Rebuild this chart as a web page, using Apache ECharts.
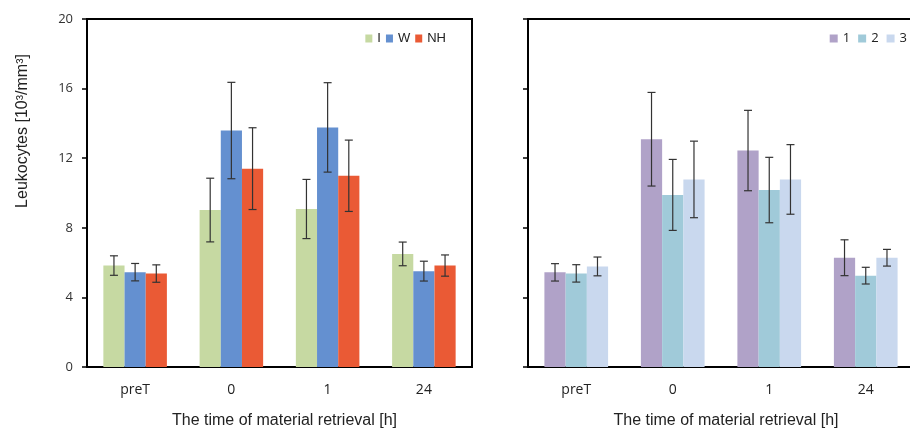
<!DOCTYPE html>
<html>
<head>
<meta charset="utf-8">
<script src="https://cdn.jsdelivr.net/npm/echarts@6/dist/echarts.min.js"></script>
<style>html,body{margin:0;padding:0;background:#fff;}#c{width:910px;height:432px;}</style>
</head>
<body>
<div id="c"></div>
<script>
const categories = ['preT', '0', '1', '24'];
const yTicks = [0, 4, 8, 12, 16, 20];

// Left panel (means and SD)
const leftNames = ['I', 'W', 'NH'];
const meanI  = [5.83, 9.02, 9.08, 6.50];
const errI   = [0.56, 1.83, 1.70, 0.68];
const meanW  = [5.45, 13.59, 13.77, 5.51];
const errW   = [0.50, 2.77, 2.57, 0.57];
const meanNH = [5.37, 11.40, 10.99, 5.83];
const errNH  = [0.50, 2.35, 2.05, 0.61];

// Right panel
const rightNames = ['1', '2', '3'];
const mean1 = [5.44, 13.09, 12.44, 6.28];
const err1  = [0.50, 2.69, 2.31, 1.03];
const mean2 = [5.38, 9.89, 10.17, 5.25];
const err2  = [0.50, 2.04, 1.88, 0.48];
const mean3 = [5.78, 10.78, 10.78, 6.28];
const err3  = [0.54, 2.20, 2.00, 0.48];

const leftColors = ['#c6d9a2', '#6490d0', '#ea5a35'];
const rightColors = ['#b0a2c8', '#a0cad9', '#c9d8ee'];
const BAR_FRAC = 0.22;

const chart = echarts.init(document.getElementById('c'));

function errData(mean, err) {
  return mean.map((m, i) => [i, m - err[i], m + err[i]]);
}

function errSeries(mean, err, idx, axisIdx) {
  return {
    type: 'custom',
    xAxisIndex: axisIdx,
    yAxisIndex: axisIdx,
    data: errData(mean, err),
    encode: { x: 0, y: [1, 2] },
    z: 5,
    silent: true,
    renderItem: function (params, api) {
      const c = api.value(0);
      const lo = api.coord([c, api.value(1)]);
      const hi = api.coord([c, api.value(2)]);
      const band = api.size([1, 0])[0];
      const x = lo[0] + (idx - 1) * band * BAR_FRAC;
      const cap = 4;
      const style = { stroke: '#333', lineWidth: 1.2 };
      return {
        type: 'group',
        children: [
          { type: 'line', shape: { x1: x, y1: lo[1], x2: x, y2: hi[1] }, style: style },
          { type: 'line', shape: { x1: x - cap, y1: lo[1], x2: x + cap, y2: lo[1] }, style: style },
          { type: 'line', shape: { x1: x - cap, y1: hi[1], x2: x + cap, y2: hi[1] }, style: style }
        ]
      };
    }
  };
}

function barSeries(name, data, color, axisIdx) {
  return {
    name: name,
    type: 'bar',
    xAxisIndex: axisIdx,
    yAxisIndex: axisIdx,
    data: data,
    barWidth: (BAR_FRAC * 100) + '%',
    barGap: '0%',
    itemStyle: { color: color },
    silent: true
  };
}

const tickFont = { fontFamily: 'Open Sans', fontSize: 13, color: '#333' };
const nameFont = { fontFamily: 'Liberation Sans', fontSize: 16, color: '#222', padding: [0, 0, 0, 10] };

function xAxis(gridIdx) {
  return {
    type: 'category',
    gridIndex: gridIdx,
    data: categories,
    axisLine: { lineStyle: { color: '#000', width: 2 } },
    axisTick: { show: false },
    axisLabel: Object.assign({ margin: 16 }, tickFont, { color: '#222', fontSize: 14 }),
    name: 'The time of material retrieval [h]',
    nameLocation: 'middle',
    nameGap: 46,
    nameTextStyle: nameFont
  };
}

function yAxis(gridIdx, showLabels) {
  return {
    type: 'value',
    gridIndex: gridIdx,
    min: yTicks[0],
    max: yTicks[yTicks.length - 1],
    interval: yTicks[1] - yTicks[0],
    axisLine: { show: true, lineStyle: { color: '#000', width: 2 } },
    axisTick: { show: true, length: 5, lineStyle: { color: '#000', width: 1.5 } },
    axisLabel: Object.assign({ show: showLabels, margin: 14 }, tickFont),
    splitLine: { show: false }
  };
}

const option = {
  animation: false,
  backgroundColor: '#fff',
  grid: [
    { left: 87, top: 19, width: 385, height: 348, show: true, borderColor: '#000', borderWidth: 2, containLabel: false, outerBoundsMode: 'none' },
    { left: 528, top: 19, width: 386, height: 348, show: true, borderColor: '#000', borderWidth: 2, containLabel: false, outerBoundsMode: 'none' }
  ],
  legend: [
    {
      data: leftNames, right: 464, top: 32, itemWidth: 7, itemHeight: 8, itemGap: 5,
      icon: 'rect', textStyle: { fontFamily: 'Liberation Sans', fontSize: 13, color: '#222' },
      padding: 0
    },
    {
      data: rightNames, right: 3, top: 32, itemWidth: 8, itemHeight: 8, itemGap: 8,
      icon: 'rect', textStyle: { fontFamily: 'Open Sans', fontSize: 13, color: '#222' },
      padding: 0
    }
  ],
  xAxis: [xAxis(0), xAxis(1)],
  yAxis: [yAxis(0, true), yAxis(1, false)],
  graphic: [
    {
      type: 'text',
      x: 23, y: 131,
      rotation: Math.PI / 2,
      style: {
        text: 'Leukocytes [10³/mm³]',
        fontFamily: 'Liberation Sans',
        fontSize: 16,
        fill: '#222',
        align: 'center',
        verticalAlign: 'middle'
      }
    }
  ],
  series: [
    barSeries(leftNames[0], meanI, leftColors[0], 0),
    barSeries(leftNames[1], meanW, leftColors[1], 0),
    barSeries(leftNames[2], meanNH, leftColors[2], 0),
    errSeries(meanI, errI, 0, 0),
    errSeries(meanW, errW, 1, 0),
    errSeries(meanNH, errNH, 2, 0),
    barSeries(rightNames[0], mean1, rightColors[0], 1),
    barSeries(rightNames[1], mean2, rightColors[1], 1),
    barSeries(rightNames[2], mean3, rightColors[2], 1),
    errSeries(mean1, err1, 0, 1),
    errSeries(mean2, err2, 1, 1),
    errSeries(mean3, err3, 2, 1)
  ]
};
chart.setOption(option);
</script>
</body>
</html>
